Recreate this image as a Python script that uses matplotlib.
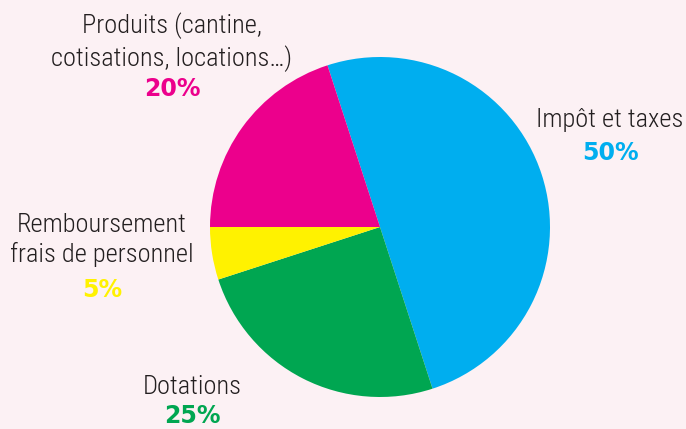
import matplotlib
matplotlib.use("Agg")
import matplotlib.pyplot as plt
from matplotlib import font_manager

# data
labels = ["Impôt et taxes", "Dotations", "Remboursement\nfrais de personnel",
          "Produits (cantine,\ncotisations, locations…)"]
values = [50, 25, 5, 20]
colors = ["#00aeef", "#00a651", "#fff200", "#ec008c"]

names = {f.name for f in font_manager.fontManager.ttflist}
family = [n for n in ["Roboto Condensed", "Liberation Sans Narrow"] if n in names]
plt.rcParams["font.family"] = family + ["DejaVu Sans"]

bg = "#fcf1f4"
W, H = 686, 429
fig = plt.figure(figsize=(W / 100, H / 100), dpi=100, facecolor=bg)

cx, cy, r = 380, 227, 170
ax = fig.add_axes([(cx - r) / W, (H - cy - r) / H, 2 * r / W, 2 * r / H])
ax.pie(values, colors=colors, startangle=108, counterclock=False,
       wedgeprops=dict(linewidth=0))
ax.set_xlim(-1, 1)
ax.set_ylim(-1, 1)
ax.set_axis_off()

# label anchor (pixel centre of the name block, pixel y of the percentage)
spots = [(610, 120, 153), (192, 387, 416), (102, 240, 290), (172, 42, 89)]
for lab, v, c, (x, y, yp) in zip(labels, values, colors, spots):
    fig.text(x / W, 1 - y / H, lab, ha="center", va="center", fontsize=19,
             color="#231f20", linespacing=1.28, fontweight="light")
    fig.text(x / W, 1 - yp / H, f"{v}%", ha="center", va="center", fontsize=17,
             color=c, fontweight="bold", family=["DejaVu Sans"])

fig.savefig("out.png", dpi=100, facecolor=bg)
